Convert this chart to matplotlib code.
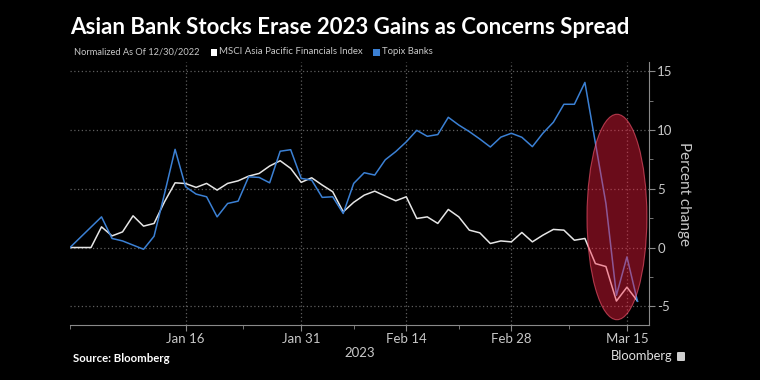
import matplotlib
matplotlib.use("Agg")
import matplotlib.pyplot as plt
from matplotlib import font_manager
from matplotlib.patches import Ellipse, Rectangle, FancyBboxPatch
import numpy as np
import pandas as pd

# ---------------- data ----------------
start_date = "2022-12-30"
end_date = "2023-03-16"
msci_apac_fin = [0, 0, 0, 1.76, 0.99, 1.33, 2.7, 1.82, 2.05, 3.9,
                 5.51, 5.45, 5.12, 5.46, 4.89, 5.46, 5.68, 6.08, 6.31, 6.94,
                 7.39, 6.74, 5.55, 5.94, 5.32, 4.75, 3.04, 3.85, 4.46, 4.8,
                 4.38, 3.98, 4.32, 2.47, 2.61, 2.05, 3.24, 2.61, 1.48, 1.25,
                 0.34, 0.56, 0.48, 1.28, 0.48, 1.05, 1.54, 1.48, 0.62, 0.77,
                 -1.37, -1.62, -4.56, -3.38, -4.56]
topix_banks = [0, None, None, 2.61, 0.77, 0.56, None, -0.15, 0.96, 4.6,
               8.36, 5.17, 4.55, 4.32, 2.61, 3.75, 3.95, 6.02, 5.97, 5.51,
               8.2, 8.33, 5.89, 5.74, 4.27, 4.32, 2.9, 5.46, 6.37, 6.17,
               7.47, 8.17, 9.0, 9.98, 9.47, 9.62, 11.09, 10.43, 9.87, 9.24,
               8.56, 9.4, 9.73, 9.39, 8.59, 9.73, 10.67, 12.2, 12.2, 14.06,
               8.9, 3.75, -4.07, -0.8, -4.58]
tick_dates = ["2023-01-16", "2023-01-31", "2023-02-14", "2023-02-28", "2023-03-15"]
tick_labels = ["Jan 16", "Jan 31", "Feb 14", "Feb 28", "Mar 15"]
y_ticks = [-5, 0, 5, 10, 15]
y_tick_labels = ["-5", "0", "5", "10", "15"]
highlight_date = "2023-03-14"
highlight_value = 2.6

title = "Asian Bank Stocks Erase 2023 Gains as Concerns Spread"
subtitle = "Normalized As Of 12/30/2022"
series_names = ["MSCI Asia Pacific Financials Index", "Topix Banks"]

# ---------------- fonts ----------------
available = {f.name for f in font_manager.fontManager.ttflist}
main_font = "DejaVu Sans"
for cand in ["Liberation Sans Narrow", "Lato", "Roboto"]:
    if cand in available:
        main_font = cand
        break
plt.rcParams["font.family"] = [main_font, "DejaVu Sans"]

WHITE = "#e6e6e6"
BLUE = "#3b80d4"
TXT = "#c8c8c8"
GRID = "#5e5e5e"

dates = pd.bdate_range(start_date, end_date)
pos = np.arange(len(dates))

fig = plt.figure(figsize=(7.6, 3.8), dpi=100, facecolor="black")
W, H = 760, 380
ax = fig.add_axes([70 / W, 1 - 325 / H, 579 / W, (325 - 62) / H], facecolor="black")

wv = np.array(msci_apac_fin, dtype=float)
ax.plot(pos, wv, color=WHITE, lw=1.1, zorder=3)
bx = [p for p, v in zip(pos, topix_banks) if v is not None]
bv = [v for v in topix_banks if v is not None]
ax.plot(bx, bv, color=BLUE, lw=1.1, zorder=3)

hpos = dates.get_loc(pd.Timestamp(highlight_date))
ell = Ellipse((hpos + 0.05, highlight_value), width=5.7, height=17.5,
              facecolor=(1.0, 0.12, 0.25, 0.42), edgecolor=(1.0, 0.35, 0.45, 0.6),
              lw=0.8, zorder=4)
ax.add_patch(ell)

ax.set_xlim(0, 55.1)
ax.set_ylim(-6.6, 15.8)

major_pos = [dates.get_loc(pd.Timestamp(d)) for d in tick_dates]
minor_pos = [0] + [(a + b) / 2 for a, b in zip([0] + major_pos[:-1], major_pos)][1:]
ax.set_xticks(major_pos)
ax.set_xticklabels(tick_labels)
ax.set_xticks(minor_pos, minor=True)

ax.yaxis.tick_right()
ax.yaxis.set_label_position("right")
ax.set_yticks(y_ticks)
ax.set_yticklabels(y_tick_labels)
ax.set_yticks([-2.5, 2.5, 7.5, 12.5], minor=True)

ax.grid(True, which="major", color=GRID, ls=(0, (1, 2)), lw=0.9, zorder=1)
for s in ["top", "left"]:
    ax.spines[s].set_visible(False)
for s in ["bottom", "right"]:
    ax.spines[s].set_color("#8a8a8a")
    ax.spines[s].set_linewidth(0.8)
ax.tick_params(axis="both", which="both", colors="#8a8a8a", labelcolor=TXT,
               labelsize=9.5, direction="out")
ax.tick_params(axis="x", which="major", length=4, pad=2)
ax.tick_params(axis="x", which="minor", length=3)
ax.tick_params(axis="y", which="major", length=4, pad=2)
ax.tick_params(axis="y", which="minor", length=3)

ax.set_xlabel("2023", color=TXT, fontsize=9.5, labelpad=1)
ax.set_ylabel("Percent change", color=TXT, fontsize=11, rotation=270, labelpad=13)

# ---------------- header texts ----------------
def fx(px):
    return px / W

def fy(py):
    return 1 - py / H

t_title = fig.text(fx(70), fy(28), title, color="white", fontsize=15,
                   fontweight="bold", va="center", ha="left")
t_sub = fig.text(fx(74), fy(52), subtitle, color=TXT, fontsize=8, va="center", ha="left")
t_s1 = fig.text(fx(219), fy(52), series_names[0], color=TXT, fontsize=8, va="center", ha="left")
t_s2 = fig.text(fx(382), fy(52), series_names[1], color=TXT, fontsize=8, va="center", ha="left")
fig.patches.append(Rectangle((fx(210.5), fy(55.5)), 6.5 / W, 6.5 / H,
                             transform=fig.transFigure, facecolor="white", edgecolor="none"))
fig.patches.append(Rectangle((fx(373), fy(55.5)), 6.5 / W, 6.5 / H,
                             transform=fig.transFigure, facecolor=BLUE, edgecolor="none"))

t_src = fig.text(fx(73), fy(358), "Source: Bloomberg", color="white", fontsize=7.5,
                 fontweight="bold", va="center", ha="left")
t_bb = fig.text(fx(611), fy(356), "Bloomberg", color="#e0e0e0", fontsize=10,
                va="center", ha="left")
fig.patches.append(FancyBboxPatch((fx(677), fy(361)), 8 / W, 9 / H,
                                  boxstyle="round,pad=0,rounding_size=0.002",
                                  transform=fig.transFigure, facecolor="#cfcfcf",
                                  edgecolor="none"))

fig.canvas.draw()
r = fig.canvas.get_renderer()

def fit(t, target):
    w = t.get_window_extent(r).width
    t.set_fontsize(t.get_fontsize() * target / w)

fit(t_title, 561)
fit(t_sub, 126)
fit(t_s1, 145)
fit(t_s2, 51)
fit(t_src, 96)
fit(t_bb, 62)

fig.savefig("out.png", dpi=100, facecolor="black")
